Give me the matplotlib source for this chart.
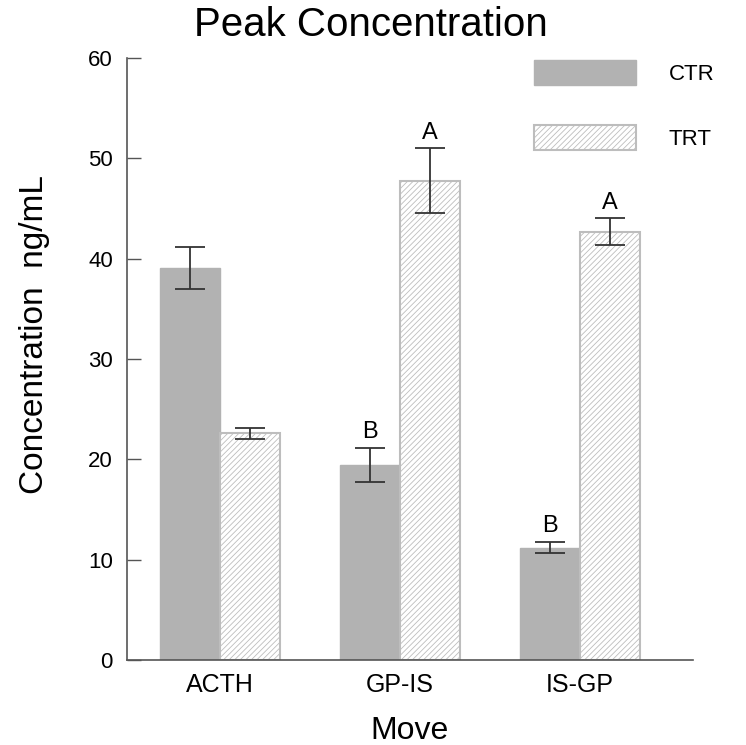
import numpy as np
import matplotlib
matplotlib.use("Agg")
import matplotlib.pyplot as plt
from matplotlib.patches import Patch

plt.rcParams['font.family'] = ['Liberation Sans', 'DejaVu Sans']
plt.rcParams['hatch.color'] = '#a8a8a8'
plt.rcParams['hatch.linewidth'] = 0.6

moves = ["ACTH", "GP-IS", "IS-GP"]
ctr_mean = [39.1, 19.4, 11.2]
ctr_err = [2.1, 1.7, 0.55]
trt_mean = [22.6, 47.8, 42.7]
trt_err = [0.55, 3.2, 1.35]
ctr_letters = ["", "B", "B"]
trt_letters = ["", "A", "A"]

fig = plt.figure(figsize=(7.46, 7.45), dpi=100)
ax = fig.add_axes([0.170, 0.114, 0.759, 0.808])

x = np.arange(len(moves))
w = 1 / 3
ekw = dict(ecolor='#333333', elinewidth=1.3, capthick=1.3)

ax.bar(x - w / 2, ctr_mean, w, color='#b2b2b2', edgecolor='#b2b2b2',
       yerr=ctr_err, capsize=11, error_kw=ekw, label='CTR')
ax.bar(x + w / 2, trt_mean, w, color='white', edgecolor='#bdbdbd', linewidth=1.5,
       hatch='//////', yerr=trt_err, capsize=11, error_kw=ekw, label='TRT')

for i in range(len(moves)):
    if ctr_letters[i]:
        ax.text(x[i] - w / 2, ctr_mean[i] + ctr_err[i] + 0.5, ctr_letters[i],
                ha='center', va='bottom', fontsize=17)
    if trt_letters[i]:
        ax.text(x[i] + w / 2, trt_mean[i] + trt_err[i] + 0.4, trt_letters[i],
                ha='center', va='bottom', fontsize=17)

ax.set_xlim(-0.517, 2.628)
ax.set_ylim(0, 60)
ax.set_yticks(range(0, 61, 10))
ax.set_xticks(x)
ax.set_xticklabels(moves)
ax.tick_params(axis='y', direction='in', length=10, width=1, color='#555555',
               labelsize=16, pad=10)
ax.tick_params(axis='x', length=0, labelsize=18, pad=9)
for s in ['top', 'right']:
    ax.spines[s].set_visible(False)
for s in ['left', 'bottom']:
    ax.spines[s].set_color('#555555')
    ax.spines[s].set_linewidth(1.2)

ax.set_ylabel("Concentration  ng/mL", fontsize=24)
ax.yaxis.set_label_coords(-0.136, 0.54)
ax.set_xlabel("Move", fontsize=23, labelpad=14)
fig.text(0.497, 0.966, "Peak Concentration", ha='center', va='center', fontsize=29)

handles = [Patch(facecolor='#b2b2b2', edgecolor='#b2b2b2'),
           Patch(facecolor='white', edgecolor='#bdbdbd', hatch='//////', linewidth=1.5)]
ax.legend(handles, ['CTR', 'TRT'], loc='upper left', bbox_to_anchor=(0.684, 1.03),
          frameon=False, fontsize=16, handlelength=4.6, handleheight=1.35,
          labelspacing=1.8, handletextpad=1.45)

fig.savefig("out.png", dpi=100)
